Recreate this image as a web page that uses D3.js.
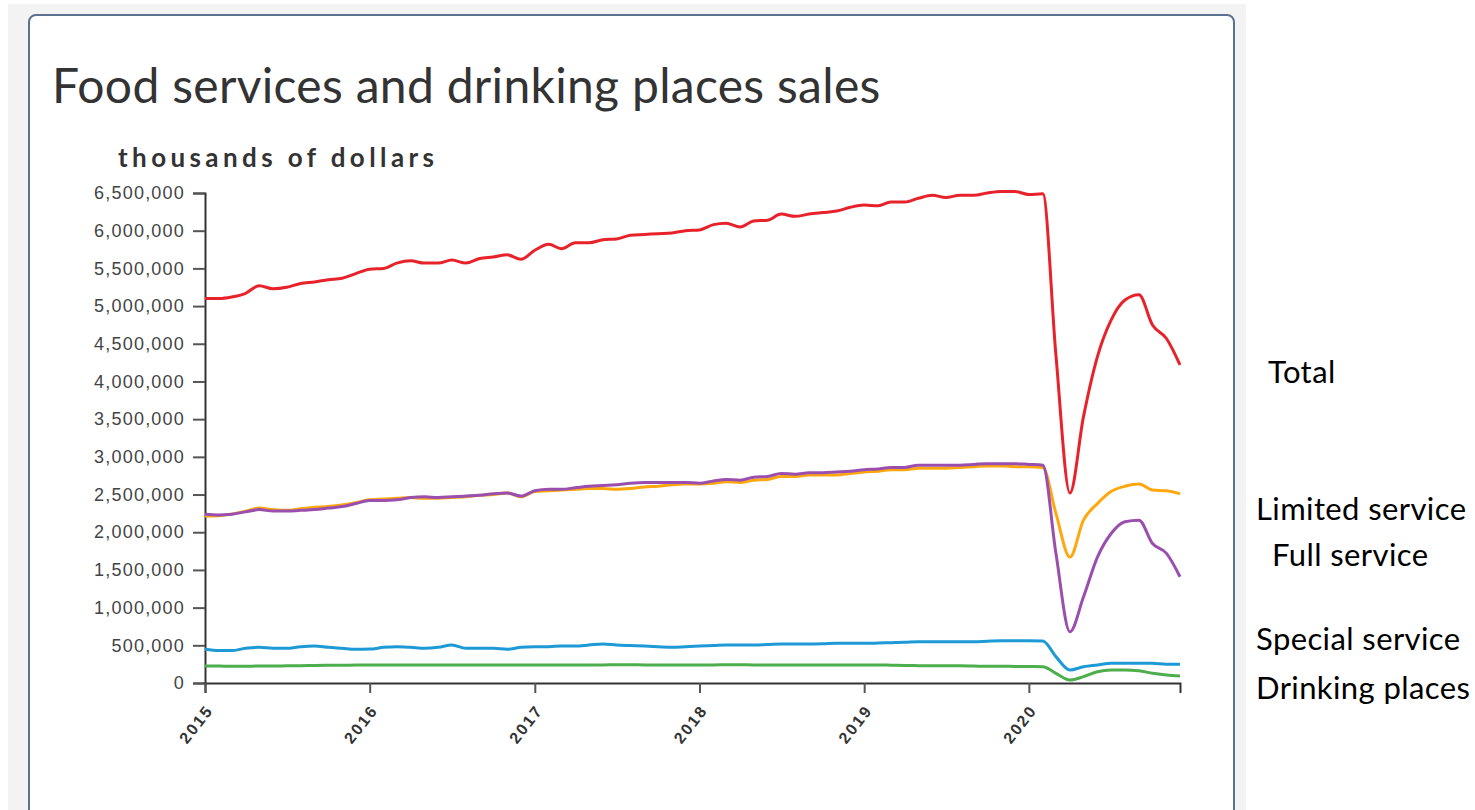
<!DOCTYPE html>
<html>
<head>
<meta charset="utf-8">
<script src="https://cdn.jsdelivr.net/npm/d3@7"></script>
<style>
  body { margin: 0; background: #fff; }
  svg { display: block; }
</style>
</head>
<body>
<div id="chart"></div>
<script>
/* DATA (thousands of dollars, monthly Jan 2015 - Dec 2020) */
const seriesNames = ["Total", "Limited service", "Full service", "Special service", "Drinking places"];
const seriesColors = ["#e8222a", "#ffa70f", "#9a4fae", "#1d9ad6", "#4cae4c"];

const total = [
  5100, 5100, 5120, 5170, 5270, 5230, 5250, 5300, 5320, 5350, 5370, 5430,
  5490, 5500, 5570, 5600, 5570, 5570, 5610, 5570, 5630, 5650, 5680, 5620,
  5740, 5820, 5760, 5840, 5840, 5880, 5890, 5940, 5950, 5960, 5970, 6000,
  6010, 6080, 6100, 6050, 6130, 6140, 6220, 6190, 6220, 6240, 6260, 6310,
  6340, 6330, 6380, 6380, 6430, 6470, 6440, 6470, 6470, 6500, 6520, 6520,
  6480, 6490, 4350, 2520, 3530, 4330, 4810, 5080, 5150, 4750, 4570, 4220
];
const limitedService = [
  2215, 2220, 2240, 2280, 2320, 2300, 2290, 2310, 2330, 2340, 2360, 2390,
  2430, 2440, 2450, 2460, 2450, 2450, 2460, 2470, 2490, 2500, 2520, 2470,
  2540, 2550, 2560, 2570, 2580, 2580, 2570, 2580, 2600, 2610, 2630, 2640,
  2640, 2650, 2670, 2660, 2690, 2700, 2740, 2740, 2760, 2760, 2760, 2780,
  2800, 2810, 2830, 2830, 2850, 2850, 2850, 2860, 2870, 2880, 2880, 2870,
  2870, 2860, 2250, 1670, 2160, 2380, 2540, 2610, 2640, 2560, 2550, 2510
];
const fullService = [
  2240, 2230, 2240, 2270, 2300, 2280, 2280, 2290, 2300, 2320, 2340, 2380,
  2420, 2420, 2430, 2460, 2470, 2460, 2470, 2480, 2490, 2510, 2520, 2480,
  2550, 2570, 2570, 2590, 2610, 2620, 2630, 2650, 2660, 2660, 2660, 2660,
  2650, 2680, 2700, 2690, 2730, 2740, 2780, 2770, 2790, 2790, 2800, 2810,
  2830, 2840, 2860, 2860, 2890, 2890, 2890, 2890, 2900, 2910, 2910, 2910,
  2900, 2890, 1720, 680, 1140, 1670, 1980, 2140, 2160, 1850, 1720, 1410
];
const specialService = [
  447, 430, 430, 460, 473, 460, 460, 482, 491, 473, 460, 447,
  450, 473, 482, 473, 460, 473, 504, 460, 460, 460, 447, 473,
  482, 482, 491, 491, 504, 517, 504, 497, 491, 482, 473, 482,
  491, 497, 504, 504, 504, 510, 517, 517, 517, 520, 526, 526,
  526, 530, 535, 540, 548, 548, 548, 548, 548, 555, 561, 561,
  561, 557, 350, 172, 216, 239, 261, 263, 263, 261, 250, 250
];
const drinkingPlaces = [
  225, 225, 222, 222, 225, 225, 228, 230, 232, 235, 236, 238,
  239, 239, 239, 239, 239, 239, 239, 239, 239, 239, 239, 239,
  239, 239, 239, 239, 239, 239, 242, 242, 239, 239, 239, 239,
  239, 239, 242, 242, 239, 239, 239, 239, 239, 239, 239, 239,
  239, 239, 236, 232, 230, 228, 228, 228, 225, 222, 222, 220,
  218, 216, 128, 40, 84, 150, 172, 172, 163, 128, 106, 93
];
const yTicks = [0, 500000, 1000000, 1500000, 2000000, 2500000, 3000000,
  3500000, 4000000, 4500000, 5000000, 5500000, 6000000, 6500000];
const yearTicks = ["2015", "2016", "2017", "2018", "2019", "2020"];

const months = d3.timeMonth.range(new Date(2015, 0, 1), new Date(2021, 0, 1));
const allSeries = [total, limitedService, fullService, specialService, drinkingPlaces];

/* CONSTANTS */
const width = 1475, height = 810;
const margin = { top: 193, bottom: 127, left: 205, right: 295 };

const svg = d3.select("#chart").append("svg")
  .attr("width", width)
  .attr("height", height);

// grey page and card
svg.append("rect")
  .attr("x", 8).attr("y", 4)
  .attr("width", 1238).attr("height", height)
  .attr("fill", "#f3f3f3");
svg.append("rect")
  .attr("x", 29).attr("y", 15)
  .attr("width", 1205).attr("height", height + 20)
  .attr("rx", 7)
  .attr("fill", "#fff")
  .attr("stroke", "#5c7190")
  .attr("stroke-width", 2);

// title + unit
svg.append("text")
  .attr("x", 52).attr("y", 103)
  .attr("font-family", "Lato")
  .attr("font-size", 48)
  .attr("letter-spacing", 0.3)
  .attr("fill", "#333")
  .text("Food services and drinking places sales");

svg.append("text")
  .attr("x", 118).attr("y", 167)
  .attr("font-family", "Lato")
  .attr("font-weight", "bold")
  .attr("font-size", 26)
  .attr("letter-spacing", 4.4)
  .attr("fill", "#333")
  .text("thousands of dollars");

/* SCALES */
const xScale = d3.scaleTime()
  .domain(d3.extent(months))
  .range([margin.left, width - margin.right]);

const yScale = d3.scaleLinear()
  .domain([0, 6500000])
  .range([height - margin.bottom, margin.top]);

/* AXES */
const yAxis = d3.axisLeft(yScale)
  .tickValues(yTicks)
  .tickSize(12)
  .tickPadding(8)
  .tickFormat(d3.format(","));

const xAxis = d3.axisBottom(xScale)
  .tickValues(yearTicks.map(y => new Date(+y, 0, 1)))
  .tickSize(10)
  .tickFormat(d3.timeFormat("%Y"));

const yAxisGroup = svg.append("g")
  .attr("transform", `translate(${margin.left}, 0)`)
  .call(yAxis);

const xAxisGroup = svg.append("g")
  .attr("transform", `translate(0, ${height - margin.bottom})`)
  .call(xAxis);

[yAxisGroup, xAxisGroup].forEach(g => {
  g.select(".domain").attr("stroke", "#333").attr("stroke-width", 2);
  g.selectAll(".tick line").attr("stroke", "#555").attr("stroke-width", 2);
  g.selectAll(".tick text")
    .attr("fill", "#444")
    .attr("font-family", "Liberation Sans, Arial")
    .attr("font-size", 18)
    .attr("letter-spacing", 1.2);
});

// rotated year labels
xAxisGroup.selectAll(".tick text")
  .attr("x", 0)
  .attr("y", 0)
  .attr("dy", "0.35em")
  .attr("text-anchor", "end")
  .attr("font-size", 16)
  .attr("font-weight", "bold")
  .attr("letter-spacing", 2)
  .attr("fill", "#333")
  .attr("transform", "translate(4, 24) rotate(-52)");

/* LINES */
const lineGen = d3.line()
  .x((d, i) => xScale(months[i]))
  .y(d => yScale(d * 1000))
  .curve(d3.curveMonotoneX);

svg.selectAll(".line")
  .data(allSeries)
  .join("path")
  .attr("class", "line")
  .attr("fill", "none")
  .attr("stroke", (d, i) => seriesColors[i])
  .attr("stroke-width", 3)
  .attr("stroke-linejoin", "round")
  .attr("d", d => lineGen(d));

/* SIDE LABELS */
const labelPos = [
  { x: 1268, y: 383 },
  { x: 1256, y: 520 },
  { x: 1272, y: 566 },
  { x: 1256, y: 650 },
  { x: 1256, y: 699 }
];
svg.selectAll(".side-label")
  .data(seriesNames)
  .join("text")
  .attr("class", "side-label")
  .attr("x", (d, i) => labelPos[i].x)
  .attr("y", (d, i) => labelPos[i].y)
  .attr("font-family", "Lato")
  .attr("font-size", 31)
  .attr("letter-spacing", 0.4)
  .attr("fill", "#000")
  .text(d => d);
</script>
</body>
</html>
